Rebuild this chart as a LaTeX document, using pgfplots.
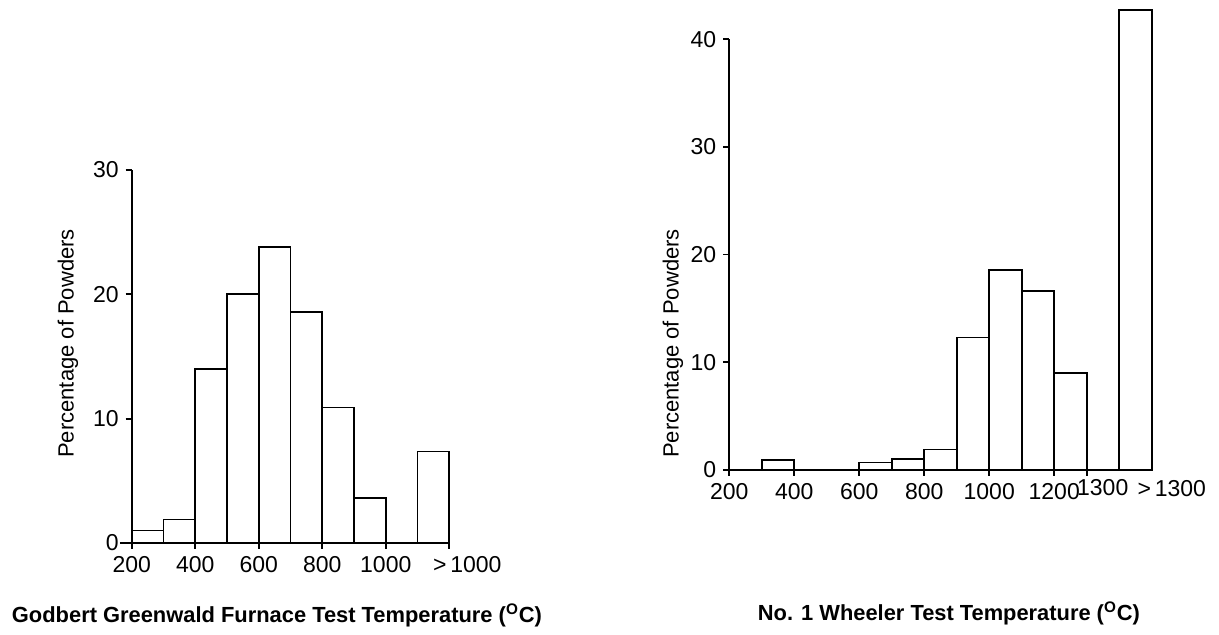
\documentclass[border=0pt]{standalone}
\usepackage{fontspec}
\setmainfont{Liberation Sans}
\usepackage{pgfplots}
\pgfplotsset{compat=1.18}
\usepackage{graphicx}
\begin{document}
\begin{tikzpicture}
\path[use as bounding box] (0,0) rectangle (609.5pt,317.5pt);
\pgfplotsset{
  common/.style={
    scale only axis,
    anchor=south west,
    axis x line*=bottom,
    axis y line*=left,
    axis line style={-, line width=0.85pt, black},
    tick align=outside,
    major tick length=3pt,
    tick style={line width=0.85pt, black},
    /pgf/number format/assume math mode=true,
    /pgf/number format/1000 sep={},
    tick label style={font=\fontsize{11.5pt}{13pt}\selectfont},
    label style={font=\fontsize{11pt}{13pt}\selectfont},
    ymin=0,
    clip=false,
  }
}
% ---------------- Left chart ----------------
\begin{axis}[common,
  at={(65.85pt,46pt)},
  width=158.8pt, height=186.5pt,
  xmin=200, xmax=1200, ymax=30,
  xtick={200,400,600,800,1000},
  extra x ticks={1200},
  extra x tick labels={>\,1000},
  extra x tick style={xticklabel style={xshift=9pt}},
  ytick={0,10,20,30},
  ylabel={Percentage of Powders},
  ylabel style={at={(axis description cs:-0.2006,0.535)}, anchor=center, rotate=0},
  xlabel={\resizebox{265pt}{!}{\bfseries Godbert Greenwald Furnace Test Temperature (\textsuperscript{O}C)}},
  xlabel style={at={(axis description cs:0.4575,-0.193)}, anchor=center},
]
\addplot[ybar, bar width=100, bar shift=0pt, fill=white, draw=black, line width=0.85pt]
  coordinates {(250,1.0) (350,1.9) (450,14.0) (550,20.0) (650,23.8) (750,18.6) (850,10.9) (950,3.6) (1150,7.35)};
\draw[line width=0.85pt] (axis cs:163,0) -- (axis cs:200,0);
\end{axis}
% ---------------- Right chart ----------------
\begin{axis}[common,
  at={(364.65pt,82.5pt)},
  width=211.2pt, height=215.35pt,
  xmin=200, xmax=1500, ymax=40,
  xtick={200,400,600,800,1000,1200},
  extra x ticks={1300},
  extra x tick labels={1300},
  extra x tick style={xticklabel style={xshift=8pt, yshift=2pt}},
  ytick={0,10,20,30,40},
  ylabel={Percentage of Powders},
  ylabel style={at={(axis description cs:-0.1333,0.2937)}, anchor=center, rotate=0},
  xlabel={\resizebox{191pt}{!}{\bfseries No. 1 Wheeler Test Temperature (\textsuperscript{O}C)}},
  xlabel style={at={(axis description cs:0.520,-0.332)}, anchor=center},
]
\addplot[ybar, bar width=100, bar shift=0pt, fill=white, draw=black, line width=0.85pt]
  coordinates {(350,0.9) (650,0.7) (750,1.0) (850,1.9) (950,12.3) (1050,18.6) (1150,16.6) (1250,9.0) (1450,42.7)};
\node[font=\fontsize{11.5pt}{13pt}\selectfont, anchor=north, inner sep=0pt] at ([xshift=10pt, yshift=-5pt]axis cs:1500,0) {>\,1300};
\end{axis}
\end{tikzpicture}
\end{document}
